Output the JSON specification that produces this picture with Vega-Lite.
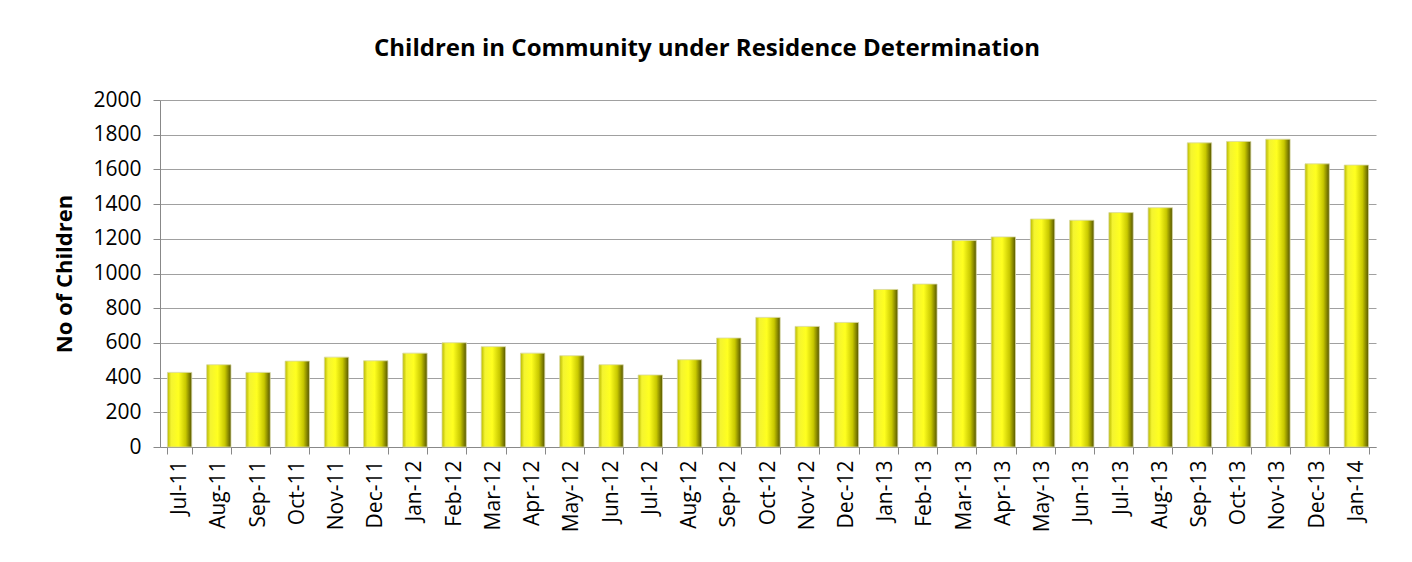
{
  "$schema": "https://vega.github.io/schema/vega-lite/v6.json",
  "autosize": {"type": "none"},
  "width": 1216,
  "height": 347,
  "padding": {"left": 160, "top": 100, "right": 36, "bottom": 115},
  "background": "white",
  "title": {
    "text": "Children in Community under Residence Determination",
    "font": "Open Sans",
    "fontSize": 24,
    "fontWeight": "bold",
    "color": "black",
    "anchor": "middle",
    "frame": "group",
    "dx": -61,
    "offset": 28
  },
  "data": {
    "values": [
      {"month": "Jul-11", "children": 430},
      {"month": "Aug-11", "children": 474},
      {"month": "Sep-11", "children": 430},
      {"month": "Oct-11", "children": 495},
      {"month": "Nov-11", "children": 518},
      {"month": "Dec-11", "children": 497},
      {"month": "Jan-12", "children": 541},
      {"month": "Feb-12", "children": 601},
      {"month": "Mar-12", "children": 578},
      {"month": "Apr-12", "children": 541},
      {"month": "May-12", "children": 526},
      {"month": "Jun-12", "children": 474},
      {"month": "Jul-12", "children": 415},
      {"month": "Aug-12", "children": 503},
      {"month": "Sep-12", "children": 628},
      {"month": "Oct-12", "children": 747},
      {"month": "Nov-12", "children": 695},
      {"month": "Dec-12", "children": 718},
      {"month": "Jan-13", "children": 908},
      {"month": "Feb-13", "children": 939},
      {"month": "Mar-13", "children": 1190},
      {"month": "Apr-13", "children": 1211},
      {"month": "May-13", "children": 1314},
      {"month": "Jun-13", "children": 1307},
      {"month": "Jul-13", "children": 1351},
      {"month": "Aug-13", "children": 1379},
      {"month": "Sep-13", "children": 1753},
      {"month": "Oct-13", "children": 1761},
      {"month": "Nov-13", "children": 1774},
      {"month": "Dec-13", "children": 1632},
      {"month": "Jan-14", "children": 1625}
    ]
  },
  "mark": {
    "type": "bar",
    "color": {
      "gradient": "linear",
      "x1": 0, "x2": 1, "y1": 0, "y2": 0,
      "stops": [
        {"offset": 0, "color": "#b8b800"},
        {"offset": 0.15, "color": "#f4f430"},
        {"offset": 0.45, "color": "#ffff20"},
        {"offset": 0.75, "color": "#c8c800"},
        {"offset": 1, "color": "#555500"}
      ]
    },
    "stroke": "#d8d8a0",
    "strokeWidth": 0.8
  },
  "encoding": {
    "x": {
      "field": "month",
      "type": "nominal",
      "sort": null,
      "scale": {"paddingInner": 0.38, "paddingOuter": 0.19},
      "axis": {
        "title": null,
        "labelAngle": -90,
        "labelAlign": "right",
        "labelBaseline": "middle",
        "labelFont": "Open Sans",
        "labelFontSize": 21,
        "labelColor": "black",
        "labelPadding": 6,
        "tickBand": "extent",
        "tickSize": 7,
        "tickColor": "#888888",
        "domainColor": "#888888",
        "grid": false
      }
    },
    "y": {
      "field": "children",
      "type": "quantitative",
      "scale": {"domain": [0, 2000], "nice": false},
      "axis": {
        "title": "No of Children",
        "titleFont": "Open Sans",
        "titleFontSize": 22,
        "titleFontWeight": "bold",
        "titleColor": "black",
        "titlePadding": 16,
        "format": "d",
        "values": [0, 200, 400, 600, 800, 1000, 1200, 1400, 1600, 1800, 2000],
        "labelFont": "Open Sans",
        "labelFontSize": 21,
        "labelColor": "black",
        "labelPadding": 12,
        "tickSize": 7,
        "tickColor": "#888888",
        "domainColor": "#888888",
        "gridColor": "#a0a0a0",
        "gridWidth": 1
      }
    }
  },
  "config": {
    "view": {"stroke": null}
  }
}
